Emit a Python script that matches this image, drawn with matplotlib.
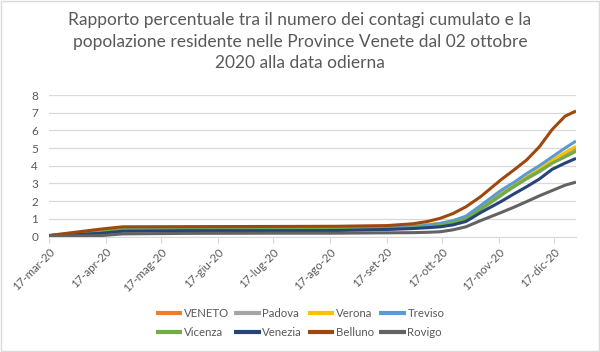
import matplotlib
matplotlib.use("Agg")
import matplotlib.pyplot as plt
from matplotlib.patches import Rectangle
import datetime as dt

dates = ['2020-03-17', '2020-04-14', '2020-04-26', '2020-06-01', '2020-07-15',
         '2020-08-20', '2020-09-17', '2020-10-01', '2020-10-09', '2020-10-16',
         '2020-10-23', '2020-10-30', '2020-11-07', '2020-11-18', '2020-11-25',
         '2020-12-02', '2020-12-09', '2020-12-16', '2020-12-23', '2020-12-29']

veneto  = [0.05, 0.30, 0.40, 0.42, 0.43, 0.44, 0.50, 0.58, 0.65, 0.72, 0.87, 1.10, 1.60, 2.42, 2.88, 3.32, 3.75, 4.25, 4.65, 5.00]
padova  = [0.05, 0.30, 0.40, 0.42, 0.43, 0.44, 0.48, 0.55, 0.60, 0.66, 0.80, 1.00, 1.50, 2.30, 2.80, 3.25, 3.65, 4.15, 4.55, 4.88]
verona  = [0.05, 0.35, 0.45, 0.47, 0.48, 0.49, 0.55, 0.62, 0.68, 0.74, 0.88, 1.10, 1.62, 2.42, 2.90, 3.35, 3.80, 4.30, 4.75, 5.10]
treviso = [0.05, 0.25, 0.38, 0.40, 0.41, 0.42, 0.48, 0.56, 0.64, 0.74, 0.90, 1.15, 1.75, 2.60, 3.05, 3.55, 4.00, 4.50, 5.00, 5.40]
vicenza = [0.04, 0.28, 0.37, 0.38, 0.39, 0.40, 0.43, 0.48, 0.55, 0.63, 0.78, 1.00, 1.55, 2.35, 2.82, 3.28, 3.70, 4.15, 4.50, 4.82]
venezia = [0.03, 0.18, 0.30, 0.33, 0.33, 0.34, 0.40, 0.45, 0.50, 0.55, 0.66, 0.85, 1.35, 1.97, 2.40, 2.81, 3.25, 3.80, 4.15, 4.42]
belluno = [0.06, 0.42, 0.55, 0.56, 0.57, 0.58, 0.62, 0.72, 0.85, 1.03, 1.30, 1.68, 2.25, 3.20, 3.75, 4.32, 5.07, 6.05, 6.80, 7.10]
rovigo  = [0.02, 0.05, 0.15, 0.18, 0.19, 0.19, 0.21, 0.22, 0.24, 0.27, 0.38, 0.55, 0.90, 1.35, 1.65, 1.97, 2.30, 2.60, 2.90, 3.08]

series_names = ['VENETO', 'Padova', 'Verona', 'Treviso', 'Vicenza', 'Venezia', 'Belluno', 'Rovigo']
series_values = [veneto, padova, verona, treviso, vicenza, venezia, belluno, rovigo]
colors = ['#ED7D31', '#A5A5A5', '#FFC000', '#5B9BD5', '#70AD47', '#264478', '#9E480E', '#636363']

tick_dates = ['2020-03-17', '2020-04-17', '2020-05-17', '2020-06-17', '2020-07-17',
              '2020-08-17', '2020-09-17', '2020-10-17', '2020-11-17', '2020-12-17']
tick_labels = ['17-mar-20', '17-apr-20', '17-mag-20', '17-giu-20', '17-lug-20',
               '17-ago-20', '17-set-20', '17-ott-20', '17-nov-20', '17-dic-20']

title = ("Rapporto percentuale tra il numero dei contagi cumulato e la\n"
         "popolazione residente nelle Province Venete dal 02 ottobre\n"
         "2020 alla data odierna")

plt.rcParams['font.family'] = ['Lato', 'DejaVu Sans']
txt = '#595959'
grid = '#D9D9D9'

fig = plt.figure(figsize=(6, 3.52), dpi=100)
ax = fig.add_axes([0.082, 0.328, 0.878, 0.402])

x = [dt.datetime.strptime(d, '%Y-%m-%d') for d in dates]
lines = []
for name, vals, c in zip(series_names, series_values, colors):
    ln, = ax.plot(x, vals, color=c, lw=2.2, label=name, solid_capstyle='butt')
    lines.append(ln)

ax.set_ylim(0, 8)
ax.set_yticks(range(0, 9))
ax.set_xlim(dt.datetime(2020, 3, 17), dt.datetime(2020, 12, 29))
ax.set_xticks([dt.datetime.strptime(d, '%Y-%m-%d') for d in tick_dates])
ax.set_xticklabels(tick_labels, rotation=45, ha='right', rotation_mode='anchor')
ax.tick_params(axis='x', colors=grid, labelcolor=txt, labelsize=8.3, length=4, pad=3)
ax.tick_params(axis='y', length=0, labelcolor=txt, labelsize=8.5, pad=8)
ax.grid(axis='y', color=grid, lw=0.9)
ax.set_axisbelow(True)
for s in ['top', 'right', 'left']:
    ax.spines[s].set_visible(False)
ax.spines['bottom'].set_color(grid)
ax.spines['bottom'].set_zorder(0.5)

fig.text(0.5, 0.965, title, ha='center', va='top', fontsize=12.5, color=txt, linespacing=1.42)

order = [0, 4, 1, 5, 2, 6, 3, 7]
leg = fig.legend([lines[i] for i in order], [series_names[i] for i in order],
                 loc='center', bbox_to_anchor=(0.5, 0.082), ncol=4, frameon=False,
                 fontsize=8.2, handlelength=2.3, handletextpad=0.15, columnspacing=0.5,
                 labelspacing=0.75)
for t in leg.get_texts():
    t.set_color(txt)
for h in leg.get_lines():
    h.set_linewidth(3)

fig.patches.append(Rectangle((0.001, 0.002), 0.997, 0.995, transform=fig.transFigure,
                             fill=False, edgecolor='#D9D9D9', lw=1))

fig.savefig('out.png', dpi=100, facecolor='white')
